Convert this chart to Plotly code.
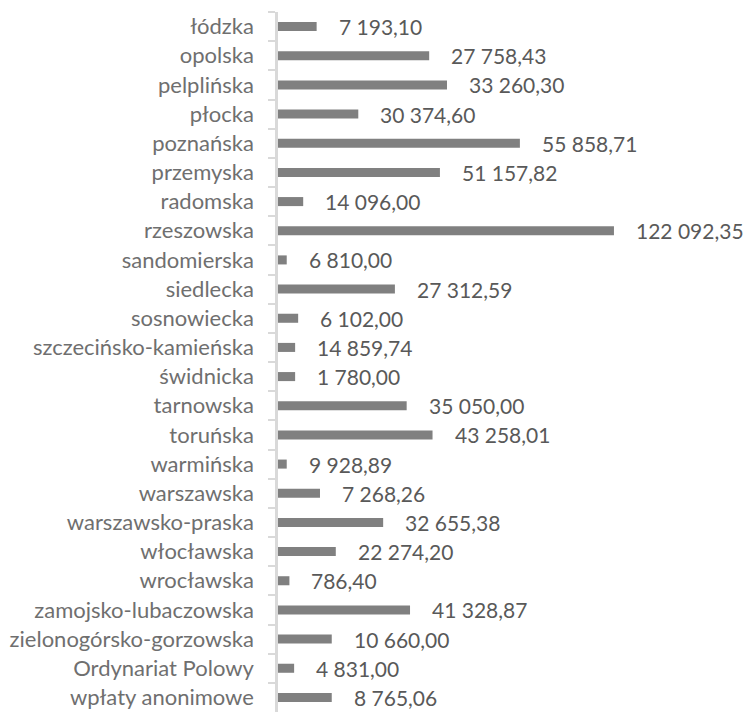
import plotly.graph_objects as go

categories = ["łódzka", "opolska", "pelplińska", "płocka", "poznańska", "przemyska",
              "radomska", "rzeszowska", "sandomierska", "siedlecka", "sosnowiecka",
              "szczecińsko-kamieńska", "świdnicka", "tarnowska", "toruńska", "warmińska",
              "warszawska", "warszawsko-praska", "włocławska", "wrocławska",
              "zamojsko-lubaczowska", "zielonogórsko-gorzowska", "Ordynariat Polowy",
              "wpłaty anonimowe"]

# bar lengths as drawn in the picture (percent of the longest bar)
bar_values = [11.5, 45.0, 50.3, 23.9, 72.0, 48.2, 7.5, 100.0, 2.6, 34.8, 6.0,
              5.1, 5.1, 38.3, 46.0, 2.6, 12.5, 31.3, 17.2, 3.4, 39.3, 16.0, 4.8, 16.0]

# amounts printed next to the bars
amount_labels = ["7 193,10", "27 758,43", "33 260,30", "30 374,60", "55 858,71",
                 "51 157,82", "14 096,00", "122 092,35", "6 810,00", "27 312,59",
                 "6 102,00", "14 859,74", "1 780,00", "35 050,00", "43 258,01",
                 "9 928,89", "7 268,26", "32 655,38", "22 274,20", "786,40",
                 "41 328,87", "10 660,00", "4 831,00", "8 765,06"]

FONT = "Lato"

fig = go.Figure(go.Bar(
    x=bar_values, y=categories, orientation="h",
    marker=dict(color="#808080", line=dict(width=0)),
    width=0.31, hoverinfo="skip",
))

annotations = [dict(x=v, y=c, text=t, xref="x", yref="y", xanchor="left",
                    yanchor="middle", xshift=20, showarrow=False,
                    font=dict(family=FONT, size=21, color="#595959"))
               for v, c, t in zip(bar_values, categories, amount_labels)]

fig.update_layout(
    width=747, height=713,
    margin=dict(l=278, r=0, t=12, b=1),
    paper_bgcolor="white", plot_bgcolor="white",
    showlegend=False,
    annotations=annotations,
    xaxis=dict(range=[0, 139.6], visible=False, fixedrange=True),
    yaxis=dict(autorange="reversed", type="category",
               showline=True, linecolor="#d9d9d9", linewidth=2.5,
               ticks="outside", tickson="boundaries", ticklen=7, tickcolor="#d9d9d9",
               tickwidth=2, ticklabelstandoff=17, showgrid=False,
               tickfont=dict(family=FONT, size=22, color="#6f6f6f")),
)

fig.write_html("out.html")
